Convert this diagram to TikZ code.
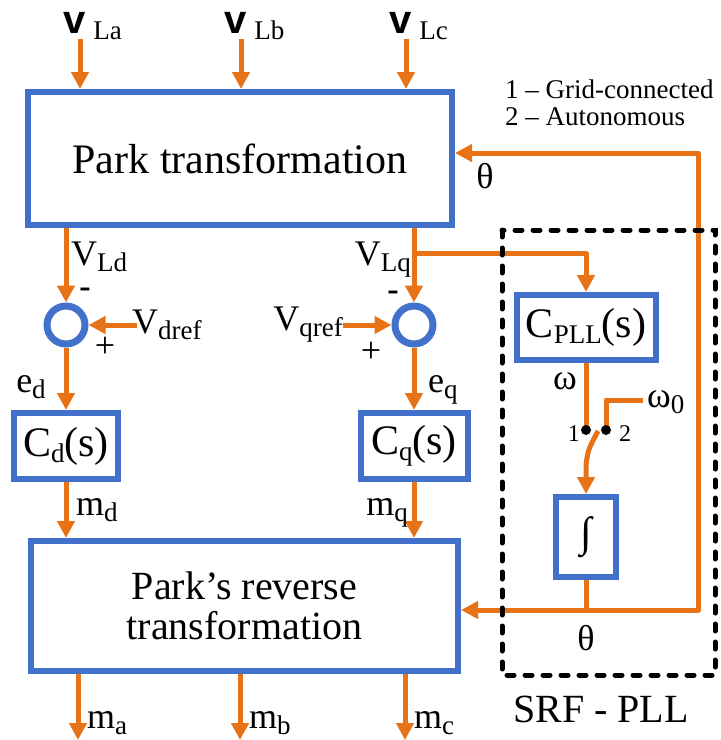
\documentclass[tikz,border=0pt]{standalone}
\usepackage{fontspec}
\setmainfont{Liberation Serif}
\setsansfont{Liberation Sans}
\usepackage{xcolor}
\usepackage{tikz}
\usetikzlibrary{arrows.meta,positioning}

\definecolor{sigorange}{RGB}{232,114,22}
\definecolor{boxblue}{RGB}{66,113,203}
\newcommand{\lowidx}[1]{\raisebox{-6pt}{\fontsize{27}{27}\selectfont #1}}

\begin{document}
\begin{tikzpicture}[x=1pt,y=-1pt,
            block/.style={draw=boxblue, line width=6pt, fill=white, inner sep=0pt, font=\fontsize{42}{37}\selectfont},
            sumpt/.style={draw=boxblue, line width=7pt, fill=white, circle, minimum size=38pt, inner sep=0pt},
            sig/.style={draw=sigorange, line width=5pt, line join=round},
            arr/.style={sig, -{Triangle[length=17pt,width=17pt]}},
            lbl/.style={font=\fontsize{36}{36}\selectfont, inner sep=0pt},
            small/.style={font=\fontsize{27}{27}\selectfont, inner sep=0pt},
            tiny/.style={font=\fontsize{24}{24}\selectfont, inner sep=0pt},
            sign/.style={font=\bfseries\fontsize{34}{34}\selectfont, inner sep=0pt}]
            \path[use as bounding box] (0,0) rectangle (721,740);

            \node[block, minimum width=424pt, minimum height=133pt] (park) at (240,158.5) {Park transformation};
            \node[block, minimum width=427pt, minimum height=130pt, align=center, font=\fontsize{40}{40}\selectfont] (rpark) at (244.5,606) {Park's reverse\\transformation};

            \foreach \x/\n/\t in {80/a/La,241/b/Lb,406/c/Lc} {
                \coordinate (i\n) at (\x,39);
                \draw[arr] (i\n) -- (i\n |- park.north);
                \node[lbl, anchor=base west] (v\n) at (\x-17,33) {{\sffamily\bfseries\fontsize{40}{40}\selectfont v}\hspace{8pt}\lowidx{\t}};
            }
            \node[small, anchor=north west, align=left] (legend) at (505,80) {1 -- Grid-connected\\2 -- Autonomous};

            % d channel
            \node[sumpt] (sd) at (66,325) {};
            \draw[arr] (park.south -| sd) -- (sd.north);
            \node[lbl, anchor=base west] (vld) at (71,265) {V\lowidx{Ld}};
            \node[sign] (md1) at (85,293) {-};
            \node[lbl] (pd) at (105,347) {+};
            \node[lbl, anchor=west] (vdref) at (132,325) {V\lowidx{dref}};
            \draw[arr] ([xshift=5pt]vdref.west) -- (sd.east);
            \node[block, minimum width=104pt, minimum height=66pt] (cd) at (66,446) {C\lowidx{d}(s)};
            \draw[arr] (sd.south) -- (cd.north);
            \node[lbl, anchor=base] (edl) at (31,392) {e\lowidx{d}};
            \draw[arr] (cd.south) -- (cd.south |- rpark.north);
            \node[lbl, anchor=base west] (mdl) at (76,515) {m\lowidx{d}};

            % q channel
            \node[sumpt] (sq) at (414,325) {};
            \draw[arr] (park.south -| sq) -- (sq.north);
            \node[lbl, anchor=base east] (vlq) at (411,265) {V\lowidx{Lq}};
            \node[sign] (mq1) at (393,296) {-};
            \node[lbl] (pq) at (371,352) {+};
            \node[lbl, anchor=east] (vqref) at (343,325) {V\lowidx{qref}};
            \draw[arr] (vqref.east) -- (sq.west);
            \node[block, minimum width=107pt, minimum height=66pt] (cq) at (414,446) {C\lowidx{q}(s)};
            \draw[arr] (sq.south) -- (cq.north);
            \node[lbl, anchor=base west] (eql) at (428,392) {e\lowidx{q}};
            \draw[arr] (cq.south) -- (cq.south |- rpark.north);
            \node[lbl, anchor=base east] (mql) at (408,515) {m\lowidx{q}};

            % SRF-PLL
            \node[block, minimum width=139pt, minimum height=65pt] (cpll) at (586,327.5) {C\lowidx{PLL}(s)};
            \coordinate (br1) at (414,253);
            \draw[arr] (br1) -- (br1 -| cpll) -- (cpll.north);
            \node[lbl] (oml) at (565,381) {ω};
            \coordinate (s1) at (586,430);
            \coordinate (s2) at (606,430);
            \coordinate (w0) at (643,400);
            \draw[sig] (cpll.south) -- (s1);
            \draw[sig] (s2) |- (w0);
            \node[lbl, anchor=west] (w0l) at (647,402) {ω\lowidx{0}};
            \node[block, minimum width=60pt, minimum height=80pt] (integ) at (586,537) {∫};
            \coordinate (bl) at (598,431);
            \draw[arr] (bl) .. controls (588,450) .. (586,465) -- (integ.north);
            \fill (s1) circle (5pt);
            \fill (s2) circle (5pt);
            \node[tiny, anchor=east] (n1) at (580,434) {1};
            \node[tiny, anchor=west] (n2) at (619,434) {2};

            \coordinate (tr) at (698,153);
            \coordinate (br) at (698,610);
            \draw[sig] (integ.south) -- (integ.south |- br);
            \draw[arr] (integ.south |- br) -- (br) -- (tr) -- (tr -| park.east);
            \draw[arr] (integ.south |- br) -- (br -| rpark.east);
            \node[lbl] (tht) at (485,176) {θ};
            \node[lbl] (thb) at (586,638) {θ};

            \draw[black, line width=5pt, dash pattern=on 7pt off 11pt, line cap=round] (502,230) rectangle (715,675);
            \node[font=\fontsize{40}{40}\selectfont, inner sep=0pt, anchor=base] (srf) at (601,722) {SRF - PLL};

            \foreach \x/\n in {78/a,240/b,405/c} {
                \coordinate (o\n) at (\x,740);
                \draw[arr] (rpark.south -| o\n) -- (o\n);
                \node[lbl, anchor=base west] (m\n) at (\x+9,728) {m\lowidx{\n}};
            }
        \end{tikzpicture}
\end{document}
